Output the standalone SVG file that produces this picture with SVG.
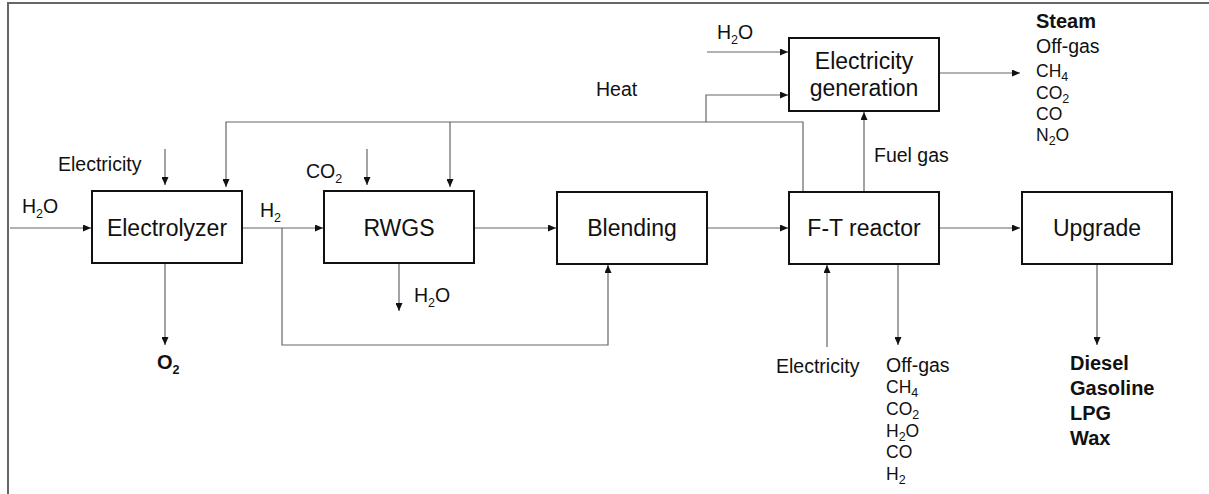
<svg xmlns="http://www.w3.org/2000/svg" width="1209" height="494" viewBox="0 0 1209 494">
<style>
  text { font-family: "Liberation Sans", Arial, sans-serif; fill: #111; }
  .main { font-size: 23px; text-anchor: middle; }
  .lbl { font-size: 19.5px; }
  .gas { font-size: 17.5px; }
  .bold { font-size: 20px; font-weight: bold; }
  .sub { font-size: 12.5px; }
  .box { fill: #fff; stroke: #111; stroke-width: 2; }
  .con { fill: none; stroke: #666; stroke-width: 1.2; marker-end: url(#arr); }
  .frame { fill: none; stroke: #666; stroke-width: 2; }
</style>
<defs>
  <marker id="arr" markerUnits="userSpaceOnUse" markerWidth="8" markerHeight="7" refX="8" refY="3.5" orient="auto">
    <path d="M0,0 L8,3.5 L0,7 z" fill="#111"/>
  </marker>
</defs>
<rect width="1209" height="494" fill="#fff"/>
<path class="frame" d="M8,494 V3 H1209"/>

<g id="connectors">
  <path class="con" d="M10,228 H91"/>
  <path class="con" d="M165,149 V185"/>
  <path class="con" d="M803,192 V122 H226 V187"/>
  <path class="con" d="M450,122 V187"/>
  <path class="con" d="M706,122 V95 H788"/>
  <path class="con" d="M242,228 H323"/>
  <path class="con" d="M282,228 V345 H608 V265"/>
  <path class="con" d="M367,149 V185"/>
  <path class="con" d="M399,264 V311"/>
  <path class="con" d="M165,263 V345"/>
  <path class="con" d="M474,228 H556"/>
  <path class="con" d="M707,228 H788"/>
  <path class="con" d="M939,228 H1020"/>
  <path class="con" d="M864,192 V112"/>
  <path class="con" d="M827,347 V265"/>
  <path class="con" d="M898,264 V345"/>
  <path class="con" d="M1097,264 V345"/>
  <path class="con" d="M707,52 H788"/>
  <path class="con" d="M939,73 H1020"/>
</g>

<g id="electrolyzer">
  <rect class="box" x="92" y="191" width="150" height="72"/>
  <text class="main" x="167" y="236">Electrolyzer</text>
</g>
<g id="rwgs">
  <rect class="box" x="324" y="191" width="150" height="72"/>
  <text class="main" x="399" y="236">RWGS</text>
</g>
<g id="blending">
  <rect class="box" x="557" y="192" width="150" height="72"/>
  <text class="main" x="632" y="236">Blending</text>
</g>
<g id="ft-reactor">
  <rect class="box" x="789" y="192" width="150" height="72"/>
  <text class="main" x="864" y="236">F-T reactor</text>
</g>
<g id="upgrade">
  <rect class="box" x="1022" y="192" width="150" height="72"/>
  <text class="main" x="1097" y="236">Upgrade</text>
</g>
<g id="electricity-generation">
  <rect class="box" x="789" y="38" width="150" height="73"/>
  <text class="main" x="864" y="69">Electricity</text>
  <text class="main" x="864" y="96">generation</text>
</g>

<g id="labels">
  <text class="lbl" x="22" y="213">H<tspan class="sub" dy="5">2</tspan><tspan dy="-5">O</tspan></text>
  <text class="lbl" x="58" y="171">Electricity</text>
  <text class="bold" x="157" y="369">O<tspan class="sub" dy="5" font-weight="bold">2</tspan></text>
  <text class="lbl" x="260" y="217">H<tspan class="sub" dy="5">2</tspan></text>
  <text class="lbl" x="306" y="178">CO<tspan class="sub" dy="5">2</tspan></text>
  <text class="lbl" x="414" y="302">H<tspan class="sub" dy="5">2</tspan><tspan dy="-5">O</tspan></text>
  <text class="lbl" x="717" y="39">H<tspan class="sub" dy="5">2</tspan><tspan dy="-5">O</tspan></text>
  <text class="lbl" x="596" y="96">Heat</text>
  <text class="lbl" x="874" y="162">Fuel gas</text>
  <text class="lbl" x="776" y="373">Electricity</text>

  <text class="bold" x="1036" y="28">Steam</text>
  <text class="lbl" x="1036" y="53">Off-gas</text>
  <text class="gas" x="1036" y="77">CH<tspan class="sub" dy="4">4</tspan></text>
  <text class="gas" x="1036" y="99">CO<tspan class="sub" dy="4">2</tspan></text>
  <text class="gas" x="1036" y="120">CO</text>
  <text class="gas" x="1036" y="141">N<tspan class="sub" dy="4">2</tspan><tspan dy="-4">O</tspan></text>

  <text class="lbl" x="886" y="372">Off-gas</text>
  <text class="gas" x="886" y="393">CH<tspan class="sub" dy="4">4</tspan></text>
  <text class="gas" x="886" y="415">CO<tspan class="sub" dy="4">2</tspan></text>
  <text class="gas" x="886" y="437">H<tspan class="sub" dy="4">2</tspan><tspan dy="-4">O</tspan></text>
  <text class="gas" x="886" y="458">CO</text>
  <text class="gas" x="886" y="480">H<tspan class="sub" dy="4">2</tspan></text>

  <text class="bold" x="1070" y="370">Diesel</text>
  <text class="bold" x="1070" y="395">Gasoline</text>
  <text class="bold" x="1070" y="420">LPG</text>
  <text class="bold" x="1070" y="445">Wax</text>
</g>
</svg>
